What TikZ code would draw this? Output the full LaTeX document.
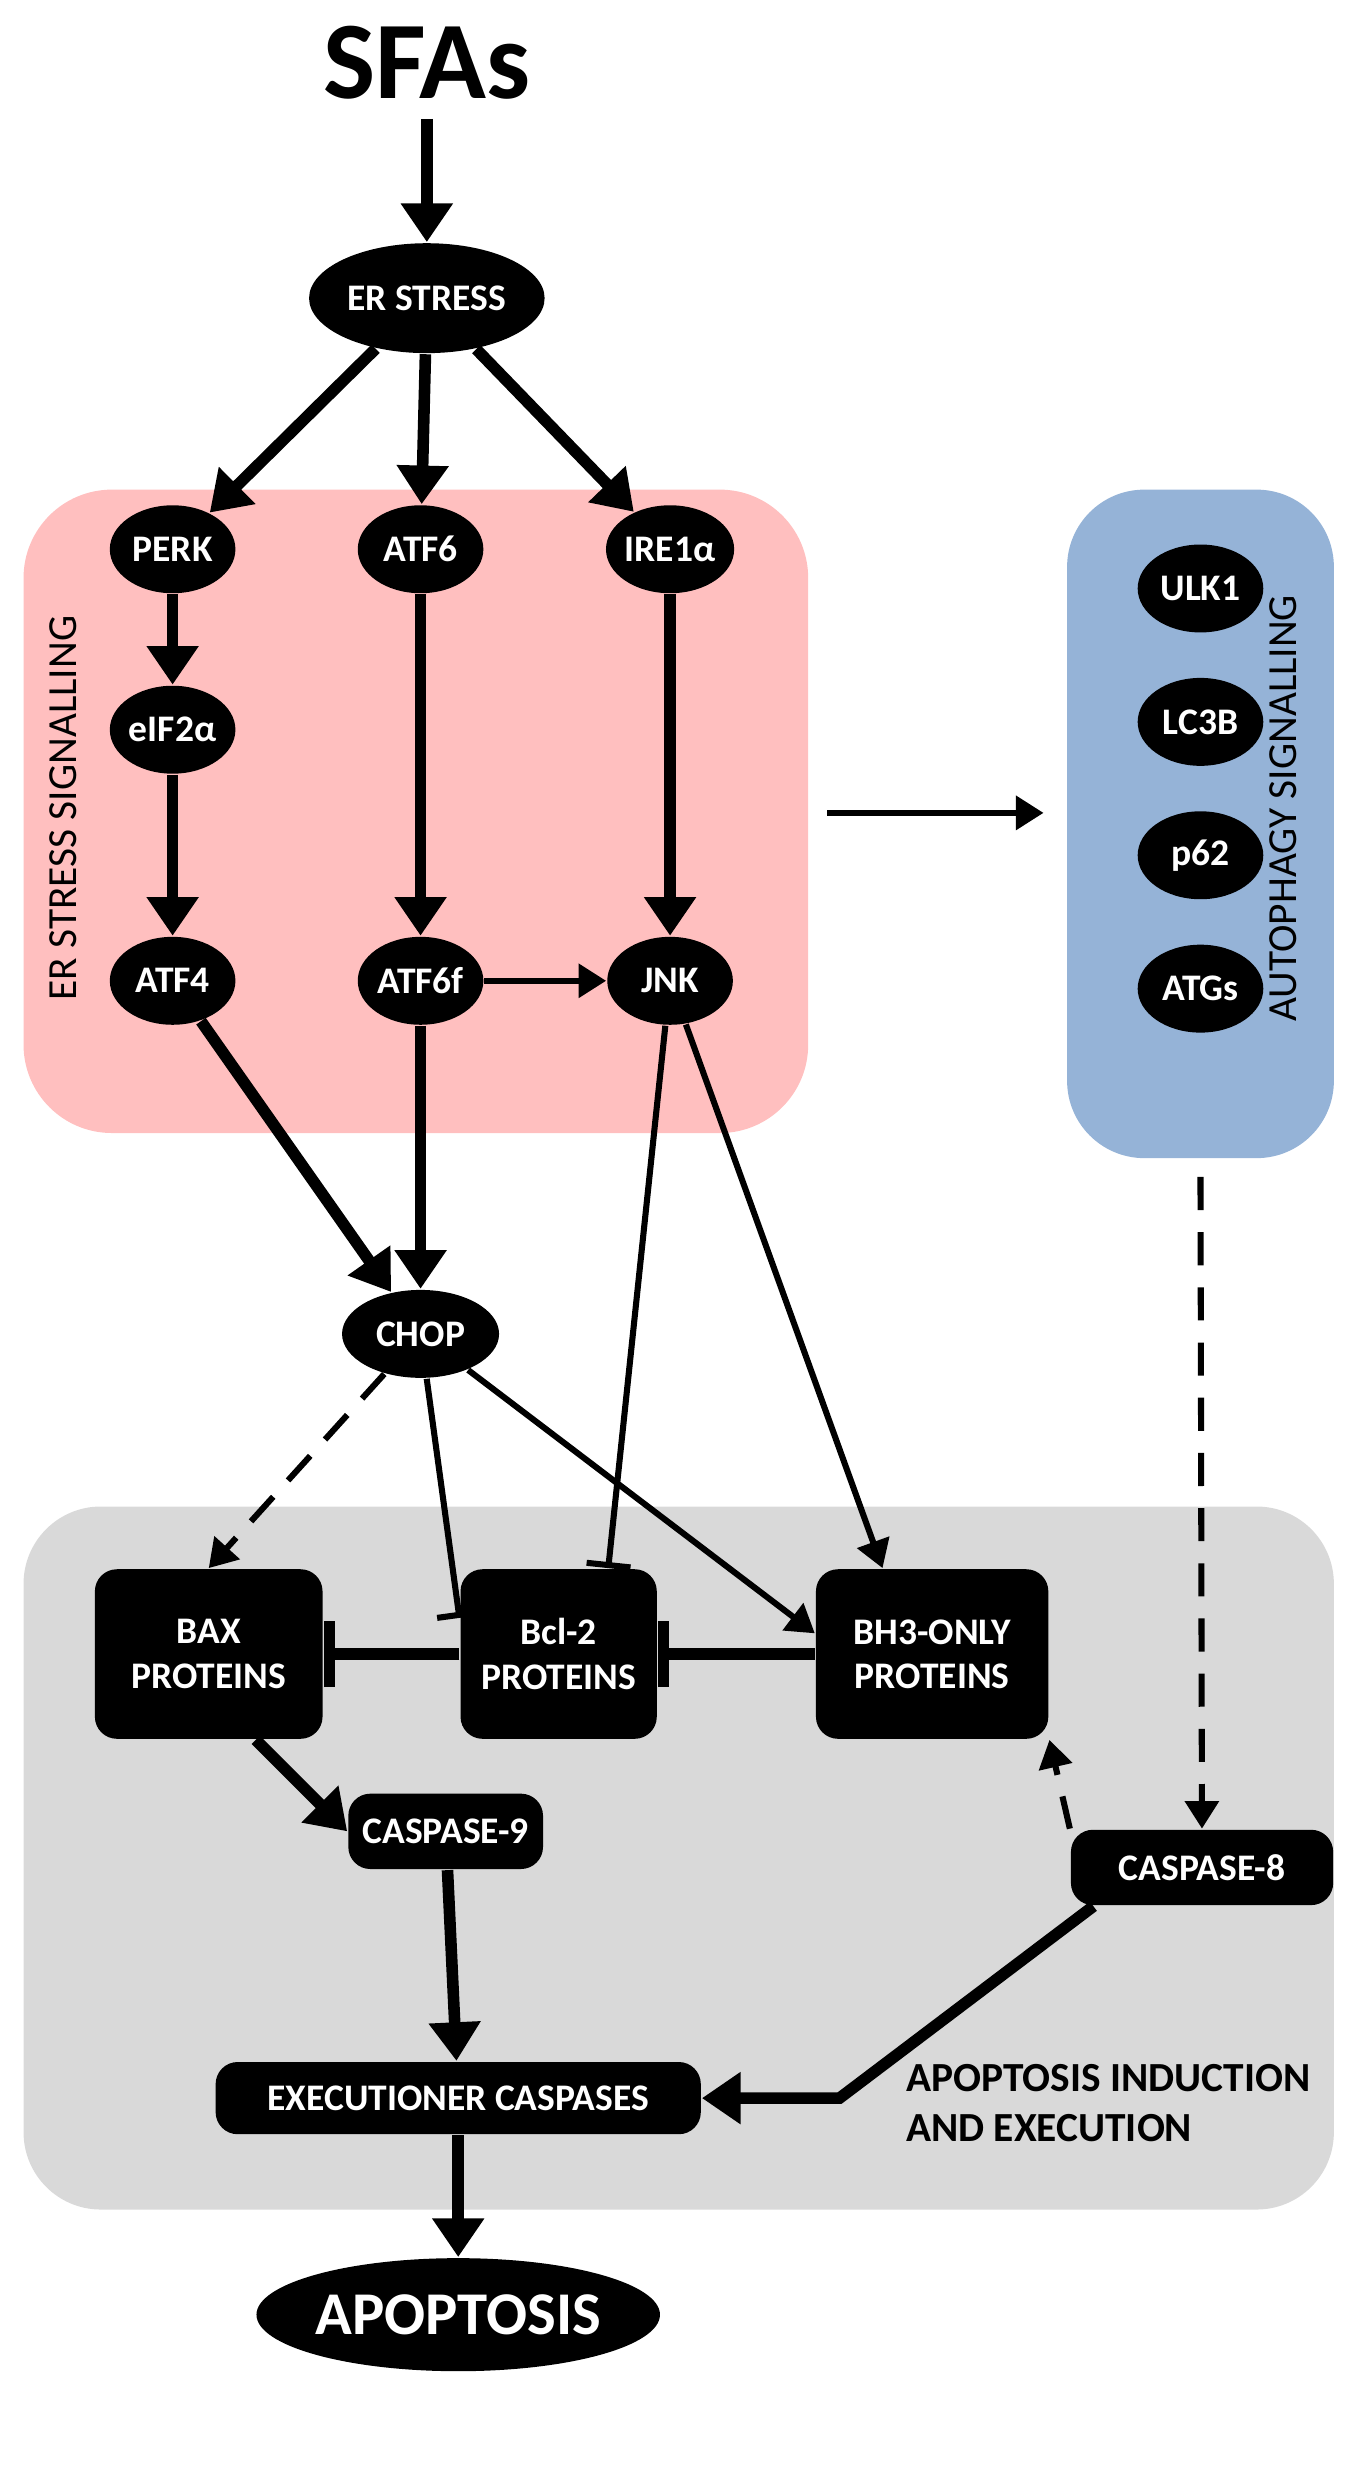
\documentclass[tikz,border=0pt]{standalone}
\usepackage{fontspec}
\setmainfont{Carlito}
\usetikzlibrary{shapes.geometric,arrows.meta}

\begin{document}
\begin{tikzpicture}[x=0.01cm,y=-0.01cm,
    font=\bfseries\fontsize{6.8}{8}\selectfont,
    ell/.style={ellipse, fill=black, text=white, inner sep=0pt,
        minimum width=0.8cm, minimum height=0.56cm},
    blk/.style={rectangle, rounded corners=4pt, fill=black, text=white,
        align=center, inner sep=2pt},
    thk/.style={line width=2.1pt, -{Triangle[length=7pt,width=9pt]}},
    thn/.style={line width=1.1pt, -{Triangle[length=5pt,width=6pt]}},
    inh/.style={line width=1.1pt, -{Bar[width=8pt]}},
    binh/.style={line width=2.1pt, -{Bar[width=12pt,line width=2.1pt]}},
    dsh/.style={thn, dash pattern=on 6pt off 4pt},
]
    \useasboundingbox (0,0) rectangle (870,1581);

    % Backgrounds
    \fill[red!25!white, rounded corners=16pt] (15,312) rectangle (515,722);
    \fill[fill={rgb,255:red,149;green,179;blue,215}, rounded corners=14pt] (680,312) rectangle (850,738);
    \fill[black!15, rounded corners=14pt] (15,960) rectangle (850,1408);

    \node[rotate=90, font=\fontsize{7.5}{9}\selectfont] (lblER) at (40,515) {ER STRESS SIGNALLING};
    \node[rotate=90, font=\fontsize{7.5}{9}\selectfont] (lblAU) at (818,515) {AUTOPHAGY SIGNALLING};
    \node[align=left, font=\bfseries\fontsize{7.5}{9}\selectfont, anchor=west] (lblAP) at (565,1340) {APOPTOSIS INDUCTION\\AND EXECUTION};

    % Nodes
    \node[font=\bfseries\fontsize{20}{22}\selectfont] (sfa) at (272,40) {SFAs};
    \node[ell, minimum width=1.5cm, minimum height=0.7cm] (ers) at (272,190) {ER STRESS};
    \node[ell] (perk) at (110,350) {PERK};
    \node[ell] (atf6) at (268,350) {ATF6};
    \node[ell] (ire) at (427,350) {IRE1α};
    \node[ell] (eif) at (110,465) {eIF2α};
    \node[ell] (atf4) at (110,625) {ATF4};
    \node[ell] (atf6f) at (268,625) {ATF6f};
    \node[ell] (jnk) at (427,625) {JNK};
    \node[ell] (ulk) at (765,375) {ULK1};
    \node[ell] (lc3) at (765,460) {LC3B};
    \node[ell] (p62) at (765,545) {p62};
    \node[ell] (atg) at (765,630) {ATGs};
    \node[ell, minimum width=1cm] (chop) at (268,850) {CHOP};
    \node[blk, minimum width=1.45cm, minimum height=1.08cm] (bax) at (133,1054) {BAX\\PROTEINS};
    \node[blk, minimum width=1.25cm, minimum height=1.08cm] (bcl) at (356,1054) {Bcl-2\\PROTEINS};
    \node[blk, minimum width=1.48cm, minimum height=1.08cm] (bh3) at (594,1054) {BH3-ONLY\\PROTEINS};
    \node[blk, minimum width=1.24cm, minimum height=0.48cm] (c9) at (284,1167) {CASPASE-9};
    \node[blk, minimum width=1.67cm, minimum height=0.48cm] (c8) at (766,1190) {CASPASE-8};
    \node[blk, minimum width=3.09cm, minimum height=0.46cm] (exe) at (292,1337) {EXECUTIONER CASPASES};
    \node[ell, minimum width=2.2cm, minimum height=0.72cm, font=\bfseries\fontsize{11}{13}\selectfont] (apo) at (292,1475) {APOPTOSIS};
    \coordinate (pk) at (527,518);
    \coordinate (bl) at (665,518);
    \coordinate (au) at (765,750);
    \coordinate (bend) at (535,1337);

    % Arrows
    \draw[thk] (sfa) -- (ers);
    \draw[thk] (ers) -- (perk);
    \draw[thk] (ers) -- (atf6);
    \draw[thk] (ers) -- (ire);
    \draw[thk] (perk) -- (eif);
    \draw[thk] (eif) -- (atf4);
    \draw[thk] (atf6) -- (atf6f);
    \draw[thk] (ire) -- (jnk);
    \draw[thn] (atf6f) -- (jnk);
    \draw[thk] (atf4) -- (chop);
    \draw[thk] (atf6f) -- (chop);
    \draw[thn] (pk) -- (bl);
    \draw[dsh] (au) -- (c8);
    \draw[dsh] (chop) -- (bax.north);
    \draw[inh] (chop) -- (bcl.160);
    \draw[inh] (jnk) -- (bcl.60);
    \draw[thn] (chop) -- (bh3.170);
    \draw[thn] (jnk) -- (bh3.120);
    \draw[binh] (bcl) -- (bax);
    \draw[binh] (bh3) -- (bcl);
    \draw[thk] (bax.south) ++(30,0) -- (c9.west);
    \draw[dsh] (c8.north west) -- (bh3.south east);
    \draw[thk] (c9) -- (exe);
    \draw[thk] (c8.south west) ++(15,0) -- (bend) -- (exe);
    \draw[thk] (exe) -- (apo);
\end{tikzpicture}
\end{document}
